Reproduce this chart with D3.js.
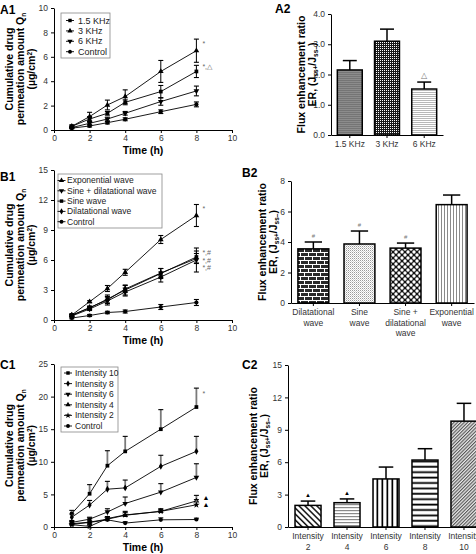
<!DOCTYPE html>
<meta charset="utf-8">
<style>
body { margin: 0; background: #fff; }
svg { font-family: "Liberation Sans", Arial, sans-serif; }
.ax text { fill: #333; font-size: 8.5px; }
.ax path, .ax line { stroke: #000; stroke-width: 1; }
.ttl { font-weight: bold; font-size: 10.5px; fill: #000; }
.lbl { font-weight: bold; font-size: 12px; fill: #000; }
.leg { font-size: 8.5px; fill: #222; }
.note { font-size: 7px; fill: #666; }
</style>
<script src="https://d3js.org/d3.v7.min.js"></script>
<svg id="fig" width="476" height="554"></svg>
<script>
var svg = d3.select("#fig");

// sampling times (h)
var times = [1, 2, 3, 4, 6, 8];

// A1 - frequency
var a1Names = ["1.5 KHz", "3 KHz", "6 KHz", "Control"];
var a1Khz15 = [0.3, 0.9, 1.37, 2.27, 3.15, 4.8];
var a1Khz15Err = [0.1, 0.2, 0.15, 0.2, 0.5, 0.5];
var a1Khz3 = [0.3, 1.1, 2.05, 2.74, 4.8, 6.5];
var a1Khz3Err = [0.1, 0.35, 0.4, 0.55, 0.9, 0.95];
var a1Khz6 = [0.2, 0.55, 0.9, 1.37, 2.33, 3.2];
var a1Khz6Err = [0.08, 0.12, 0.15, 0.15, 0.3, 0.4];
var a1Ctrl = [0.15, 0.33, 0.6, 0.88, 1.5, 2.1];
var a1CtrlErr = [0.05, 0.08, 0.1, 0.12, 0.15, 0.2];

// A2
var a2Names = ["1.5 KHz", "3 KHz", "6 KHz"];
var a2Vals = [2.15, 3.1, 1.52];
var a2Err = [0.31, 0.4, 0.23];

// B1 - waveform
var b1Names = ["Exponential wave", "Sine + dilatational wave", "Sine wave", "Dilatational wave", "Control"];
var b1Exp = [0.5, 1.83, 3.15, 4.77, 8.05, 10.45];
var b1ExpErr = [0.1, 0.1, 0.3, 0.3, 0.4, 1.1];
var b1SineDil = [0.4, 1.1, 1.9, 2.8, 4.3, 6.0];
var b1SineDilErr = [0.1, 0.15, 0.4, 0.4, 0.5, 1.2];
var b1Sine = [0.5, 1.2, 2.1, 3.0, 4.65, 6.3];
var b1SineErr = [0.1, 0.15, 0.4, 0.5, 0.5, 0.6];
var b1Dil = [0.45, 1.25, 2.0, 3.1, 4.7, 6.15];
var b1DilErr = [0.1, 0.15, 0.35, 0.35, 0.45, 0.5];
var b1Ctrl = [0.2, 0.45, 0.75, 0.85, 1.3, 1.75];
var b1CtrlErr = [0.08, 0.1, 0.12, 0.15, 0.25, 0.3];

// B2
var b2Names = ["Dilatational\nwave", "Sine\nwave", "Sine +\ndilatational\nwave", "Exponential\nwave"];
var b2Vals = [3.55, 3.87, 3.6, 6.45];
var b2Err = [0.45, 0.85, 0.33, 0.63];

// C1 - intensity
var c1Names = ["Intensity 10", "Intensity 8", "Intensity 6", "Intensity 4", "Intensity 2", "Control"];
var c1Int10 = [2.05, 5.1, 9.4, 11.6, 15.0, 18.4];
var c1Int10Err = [0.5, 1.4, 2.3, 2.3, 3.0, 2.9];
var c1Int8 = [1.5, 3.37, 5.8, 6.0, 9.3, 11.6];
var c1Int8Err = [0.5, 0.7, 1.2, 1.2, 1.7, 2.3];
var c1Int6 = [0.7, 1.2, 2.3, 3.6, 5.35, 7.6];
var c1Int6Err = [0.3, 0.3, 0.5, 1.0, 1.3, 2.1];
var c1Int4 = [0.5, 0.75, 1.2, 1.8, 2.4, 4.0];
var c1Int4Err = [0.3, 0.3, 0.4, 0.6, 0.4, 0.85];
var c1Int2 = [0.35, 0.1, 1.3, 1.85, 2.4, 3.4];
var c1Int2Err = [0.25, 0.3, 0.3, 0.4, 0.3, 0.8];
var c1Ctrl = [0.4, 0.7, 1.1, 0.6, 1.1, 1.15];
var c1CtrlErr = [0.15, 0.2, 0.3, 0.2, 0.3, 0.2];

// C2
var c2Names = ["Intensity\n2", "Intensity\n4", "Intensity\n6", "Intensity\n8", "Intensity\n10"];
var c2Vals = [2.0, 2.25, 4.45, 6.2, 9.8];
var c2Err = [0.4, 0.35, 1.1, 1.05, 1.65];

// ---------- patterns ----------
var defs = svg.append("defs");
function pattern(id, w, h, bg, rot) {
  var p = defs.append("pattern").attr("id", id).attr("patternUnits", "userSpaceOnUse")
    .attr("width", w).attr("height", h);
  if (rot) p.attr("patternTransform", "rotate(" + rot + ")");
  p.append("rect").attr("width", w).attr("height", h).attr("fill", bg);
  return p;
}
var p;
p = pattern("pGray", 3, 2, "#8c8c8c");
p.append("rect").attr("width", 3).attr("height", 1).attr("fill", "#757575");
p = pattern("pCheck", 2, 2, "#1a1a1a");
p.append("rect").attr("width", 1).attr("height", 1).attr("fill", "#fff");
p = pattern("pHLight", 3, 2, "#fff");
p.append("rect").attr("width", 3).attr("height", 1).attr("fill", "#b8b8b8");
p = pattern("pBrick", 8, 8, "#2a2a2a");
p.append("rect").attr("width", 8).attr("height", 1).attr("fill", "#fff");
p.append("rect").attr("y", 4).attr("width", 8).attr("height", 1).attr("fill", "#fff");
p.append("rect").attr("x", 0).attr("width", 1).attr("height", 4).attr("fill", "#fff");
p.append("rect").attr("x", 4).attr("y", 4).attr("width", 1).attr("height", 4).attr("fill", "#fff");
p = pattern("pDots", 2, 2, "#fff");
p.append("rect").attr("width", 1).attr("height", 1).attr("fill", "#9a9a9a");
p.append("rect").attr("x", 1).attr("y", 1).attr("width", 1).attr("height", 1).attr("fill", "#d0d0d0");
p = pattern("pDiam", 6, 6, "#111");
[[0, 0], [6, 0], [0, 6], [6, 6], [3, 3]].forEach(function (c) {
  p.append("circle").attr("cx", c[0]).attr("cy", c[1]).attr("r", 1.7).attr("fill", "#fff");
});
p = pattern("pVGray", 3, 3, "#fff");
p.append("rect").attr("width", 1).attr("height", 3).attr("fill", "#8a8a8a");
p = pattern("pDiagB", 4.2, 4.2, "#fff", -45);
p.append("rect").attr("width", 1.4).attr("height", 4.2).attr("fill", "#000");
p = pattern("pHThin", 3, 3, "#fff");
p.append("rect").attr("width", 3).attr("height", 1.2).attr("fill", "#8a8a8a");
p = pattern("pVBlack", 5, 5, "#fff");
p.append("rect").attr("x", 1.5).attr("width", 1.7).attr("height", 5).attr("fill", "#000");
p = pattern("pHBlack", 5.4, 5.4, "#fff");
p.append("rect").attr("y", 1.5).attr("width", 5.4).attr("height", 1.8).attr("fill", "#000");
p = pattern("pDiagF", 2.4, 2.4, "#e8e8e8", 45);
p.append("rect").attr("width", 1.1).attr("height", 2.4).attr("fill", "#555");

// ---------- helpers ----------
var symTypes = { sq: d3.symbolSquare, up: d3.symbolTriangle, down: d3.symbolTriangle,
  dia: d3.symbolDiamond, cir: d3.symbolCircle, star: d3.symbolStar };
function drawSym(g, s, cx, cy, size) {
  g.append("path").attr("d", d3.symbol().type(symTypes[s]).size(size)())
    .attr("transform", "translate(" + cx + "," + cy + ")" + (s === "down" ? " rotate(180)" : ""))
    .attr("fill", "#000");
}
function yTitle(x, yc, lines) {
  lines.forEach(function (parts, i) {
    var t = svg.append("text").attr("class", "ttl").attr("text-anchor", "middle")
      .attr("transform", "translate(" + (x + i * 11) + "," + yc + ") rotate(-90)")
      .attr("dy", "0.35em");
    parts.forEach(function (pt) {
      var ts = t.append("tspan").text(pt[0]);
      if (pt[1] === "sub") ts.attr("font-size", "6.5px").attr("baseline-shift", "-25%");
      if (pt[1] === "sup") ts.attr("font-size", "6.5px").attr("baseline-shift", "40%");
    });
  });
}
function panelLabel(txt, x, y) {
  svg.append("text").attr("class", "lbl").attr("x", x).attr("y", y).text(txt);
}

// ---------- line charts ----------
function lineChart(o) {
  var x = d3.scaleLinear().domain([0, 10]).range([54, 232]);
  var y = d3.scaleLinear().domain([0, o.ymax]).range([o.y0, o.y1]);
  var g = svg.append("g");
  g.append("g").attr("class", "ax").attr("transform", "translate(0," + o.y0 + ")")
    .call(d3.axisBottom(x).tickValues([0, 2, 4, 6, 8, 10]).tickSize(3).tickSizeOuter(0).tickPadding(2));
  g.append("g").attr("class", "ax").attr("transform", "translate(54,0)")
    .call(d3.axisLeft(y).tickValues(o.yticks).tickSize(3).tickSizeOuter(0).tickPadding(3));

  var line = d3.line().x(function (d) { return x(d[0]); }).y(function (d) { return y(d[1]); });
  o.series.forEach(function (s) {
    var pts = times.map(function (t, i) { return [t, s.v[i], s.e[i]]; });
    pts.forEach(function (pt) {
      var cx = x(pt[0]);
      var hi = y(pt[1] + pt[2]), lo = o.upOnly ? y(pt[1]) : y(Math.max(0, pt[1] - pt[2]));
      g.append("line").attr("x1", cx).attr("x2", cx).attr("y1", lo).attr("y2", hi)
        .attr("stroke", o.upOnly ? "#7a7a7a" : "#000").attr("stroke-width", o.upOnly ? 1.8 : 1);
      g.append("line").attr("x1", cx - 2.5).attr("x2", cx + 2.5).attr("y1", hi).attr("y2", hi)
        .attr("stroke", "#000").attr("stroke-width", 1.1);
      if (!o.upOnly) g.append("line").attr("x1", cx - 2.5).attr("x2", cx + 2.5).attr("y1", lo).attr("y2", lo)
        .attr("stroke", "#000").attr("stroke-width", 1.1);
    });
    g.append("path").attr("d", line(pts)).attr("fill", "none").attr("stroke", "#000").attr("stroke-width", 0.9);
    pts.forEach(function (pt) { drawSym(g, s.sym, x(pt[0]), y(pt[1]), 14); });
  });

  // legend
  var L = o.legend;
  g.append("rect").attr("x", L.x).attr("y", L.y).attr("width", L.w).attr("height", L.h)
    .attr("fill", "#fff").attr("stroke", "#888").attr("stroke-width", 0.8);
  o.series.forEach(function (s, i) {
    var ly = L.y + L.first + i * L.step;
    g.append("line").attr("x1", L.mx - 4).attr("x2", L.mx + 4).attr("y1", ly).attr("y2", ly)
      .attr("stroke", "#000").attr("stroke-width", 0.9);
    drawSym(g, s.sym, L.mx, ly, 12);
    g.append("text").attr("class", "leg").attr("x", L.tx).attr("y", ly).attr("dy", "0.35em")
      .style("font-size", L.fs + "px").text(s.name);
  });

  // significance notes
  o.notes.forEach(function (n) {
    g.append("text").attr("class", "note").attr("x", x(8) + 6).attr("y", y(n[1])).attr("dy", "0.35em")
      .style("fill", n[2] || "#666").style("font-size", (n[3] || 7) + "px").text(n[0]);
  });

  g.append("text").attr("class", "ttl").attr("text-anchor", "middle")
    .attr("x", 143).attr("y", o.y0 + 20).attr("dy", "0.35em").text("Time (h)");
  yTitle(9, (o.y0 + o.y1) / 2, [[["Cumulative drug"]],
    [["permeation amount Q"], ["n", "sub"]],
    [["(\u00b5g/cm"], ["2", "sup"], [")"]]]);
}

// ---------- bar charts ----------
function barChart(o) {
  var x = d3.scaleBand().domain(o.names).range(o.xr).paddingInner(o.pi).paddingOuter(o.po);
  var y = d3.scaleLinear().domain([0, o.ymax]).range([o.y0, o.y1]);
  var g = svg.append("g");
  var xa = g.append("g").attr("class", "ax").attr("transform", "translate(0," + o.y0 + ")")
    .call(d3.axisBottom(x).tickSize(3).tickSizeOuter(0).tickPadding(3));
  xa.selectAll(".tick text").attr("dy", 0).each(function (d) {
    var t = d3.select(this);
    t.text(null);
    d.split("\n").forEach(function (l, i) {
      t.append("tspan").attr("x", 0).attr("dy", i ? "1.2em" : "0.75em").text(l);
    });
  });
  g.append("g").attr("class", "ax").attr("transform", "translate(" + o.xr[0] + ",0)")
    .call(d3.axisLeft(y).tickValues(o.yticks).tickSize(3).tickSizeOuter(0).tickPadding(3));

  var bw = x.bandwidth();
  o.names.forEach(function (n, i) {
    var bx = x(n), top = y(o.vals[i]), et = y(o.vals[i] + o.err[i]), cx = bx + bw / 2;
    g.append("line").attr("x1", cx).attr("x2", cx).attr("y1", top).attr("y2", et)
      .attr("stroke", "#000").attr("stroke-width", 1.5);
    g.append("line").attr("x1", cx - bw * 0.28).attr("x2", cx + bw * 0.28).attr("y1", et).attr("y2", et)
      .attr("stroke", "#000").attr("stroke-width", 1.5);
    g.append("rect").attr("x", bx).attr("y", top).attr("width", bw).attr("height", o.y0 - top)
      .attr("fill", "url(#" + o.fills[i] + ")").attr("stroke", "#000").attr("stroke-width", 1.5);
    if (o.marks[i]) {
      g.append("text").attr("text-anchor", "middle").attr("x", cx).attr("y", et - 4)
        .style("font-size", o.markSize + "px").style("fill", o.markColor).text(o.marks[i]);
    }
  });
  yTitle(o.tx, (o.y0 + o.y1) / 2, [[["Flux enhancement ratio"]],
    [["ER, (J"], ["ss+", "sub"], ["/J"], ["ss\u2013", "sub"], [")"]]]);
}

// ---------- panels ----------
panelLabel("A1", 0, 14);
lineChart({
  ymax: 10, y0: 130, y1: 8, yticks: [0, 2, 4, 6, 8, 10],
  series: [
    { name: a1Names[0], sym: "sq", v: a1Khz15, e: a1Khz15Err },
    { name: a1Names[1], sym: "up", v: a1Khz3, e: a1Khz3Err },
    { name: a1Names[2], sym: "down", v: a1Khz6, e: a1Khz6Err },
    { name: a1Names[3], sym: "cir", v: a1Ctrl, e: a1CtrlErr }
  ],
  legend: { x: 61, y: 13, w: 49, h: 45, first: 7.5, step: 10.4, mx: 70, tx: 78, fs: 9 },
  notes: [["*", 7.1], ["*,\u25b3", 5.2]]
});

panelLabel("A2", 275, 13);
barChart({
  names: a2Names, vals: a2Vals, err: a2Err, fills: ["pGray", "pCheck", "pHLight"],
  xr: [331, 443], pi: 0.33, po: 0.17, ymax: 4, y0: 135, y1: 14, yticks: [0, 1, 2, 3, 4],
  marks: ["", "", "\u25b3"], markSize: 8, markColor: "#777", tx: 301
});

panelLabel("B1", 0, 181);
lineChart({
  ymax: 15, y0: 320, y1: 170, yticks: [0, 3, 6, 9, 12, 15],
  series: [
    { name: b1Names[0], sym: "up", v: b1Exp, e: b1ExpErr },
    { name: b1Names[1], sym: "down", v: b1SineDil, e: b1SineDilErr },
    { name: b1Names[2], sym: "sq", v: b1Sine, e: b1SineErr },
    { name: b1Names[3], sym: "dia", v: b1Dil, e: b1DilErr },
    { name: b1Names[4], sym: "cir", v: b1Ctrl, e: b1CtrlErr }
  ],
  legend: { x: 58, y: 174, w: 104, h: 54, first: 6.5, step: 10.3, mx: 61.5, tx: 67, fs: 8.5 },
  notes: [["*", 11.1], ["*,#", 6.75], ["*,#", 5.95], ["*,#", 5.2]]
});

panelLabel("B2", 242, 177);
barChart({
  names: b2Names, vals: b2Vals, err: b2Err, fills: ["pBrick", "pDots", "pDiam", "pVGray"],
  xr: [291, 474], pi: 0.33, po: 0.15, ymax: 8, y0: 303, y1: 181, yticks: [0, 2, 4, 6, 8],
  marks: ["#", "#", "#", ""], markSize: 6, markColor: "#777", tx: 262
});

panelLabel("C1", 0, 369);
lineChart({
  ymax: 25, y0: 527, y1: 364, yticks: [0, 5, 10, 15, 20, 25], upOnly: true,
  series: [
    { name: c1Names[0], sym: "sq", v: c1Int10, e: c1Int10Err },
    { name: c1Names[1], sym: "dia", v: c1Int8, e: c1Int8Err },
    { name: c1Names[2], sym: "down", v: c1Int6, e: c1Int6Err },
    { name: c1Names[3], sym: "up", v: c1Int4, e: c1Int4Err },
    { name: c1Names[4], sym: "star", v: c1Int2, e: c1Int2Err },
    { name: c1Names[5], sym: "cir", v: c1Ctrl, e: c1CtrlErr }
  ],
  legend: { x: 61, y: 367, w: 57, h: 65, first: 6, step: 10.6, mx: 68, tx: 75, fs: 8.5 },
  notes: [["*", 20.5], ["\u25b2", 4.5, "#000", 7], ["\u25b2", 3.4, "#000", 7]]
});

panelLabel("C2", 242, 369);
barChart({
  names: c2Names, vals: c2Vals, err: c2Err, fills: ["pDiagB", "pHThin", "pVBlack", "pHBlack", "pDiagF"],
  xr: [288, 484], pi: 0.333, po: 0.18, ymax: 15, y0: 527, y1: 365, yticks: [0, 3, 6, 9, 12, 15],
  marks: ["\u25b2", "\u25b2", "", "", ""], markSize: 6, markColor: "#000", tx: 253
});
</script>
